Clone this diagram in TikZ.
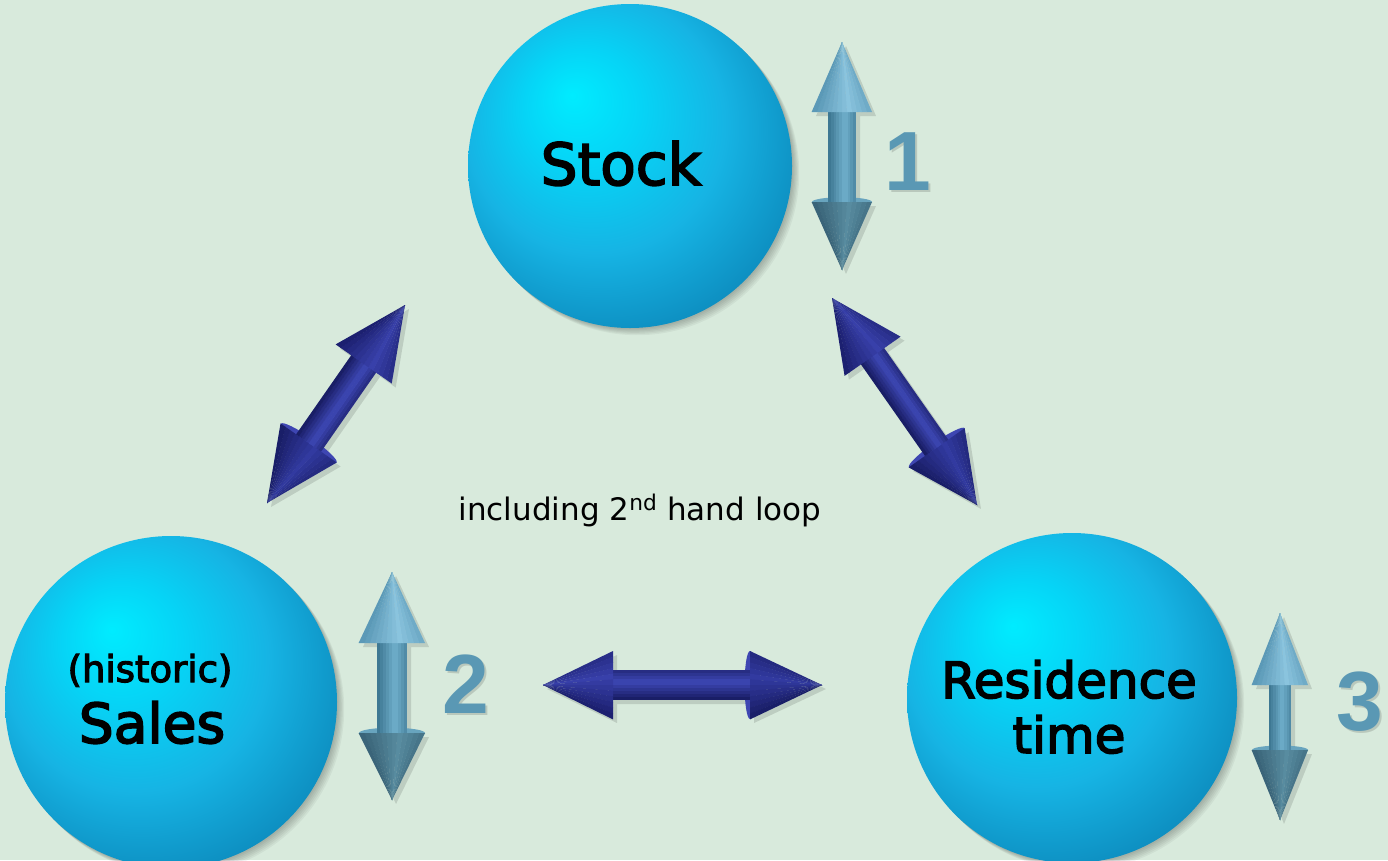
\documentclass[tikz,border=0pt]{standalone}
\usepackage{fontspec}
\setmainfont{DejaVu Sans}
\newfontfamily\lblfont{DejaVu Sans}[FakeBold=3]
\newfontfamily\numfont{Liberation Sans}
\usetikzlibrary{calc}
\definecolor{bg}{RGB}{216,234,220}
\definecolor{sphA}{RGB}{0,236,255}
\definecolor{sphB}{RGB}{6,212,246}
\definecolor{sphC}{RGB}{22,180,228}
\definecolor{sphD}{RGB}{14,145,195}
\definecolor{sphE}{RGB}{8,115,165}
\pgfdeclareradialshading{sphere}{\pgfpoint{-9bp}{11bp}}{color(0bp)=(sphA); color(9bp)=(sphB); color(20bp)=(sphC); color(30bp)=(sphD); color(39bp)=(sphE); color(50bp)=(sphE)}
% navy palette
\definecolor{nvA1}{RGB}{26,30,108}
\definecolor{nvA2}{RGB}{56,64,170}
\definecolor{nvB1}{RGB}{24,28,100}
\definecolor{nvB2}{RGB}{50,58,160}
\definecolor{nvS1}{RGB}{22,26,95}
\definecolor{nvS3}{RGB}{62,72,182}
\definecolor{nvE}{RGB}{62,70,178}
% light blue palette
\definecolor{lbA1}{RGB}{88,150,180}
\definecolor{lbA2}{RGB}{138,196,222}
\definecolor{lbB1}{RGB}{56,98,118}
\definecolor{lbB2}{RGB}{88,140,160}
\definecolor{lbS1}{RGB}{58,115,142}
\definecolor{lbS3}{RGB}{112,175,203}
\definecolor{lbE}{RGB}{104,164,190}
\definecolor{numcol}{RGB}{90,152,180}

\newcommand\fatarrow[7]{% #1 from, #2 to, #3 cone len at from, #4 cone len at to, #5 cone half width, #6 shaft half width, #7 palette
  \path let \p1=(#1), \p2=(#2) in \pgfextra{%
    \pgfmathsetmacro\tmpang{atan2(\y2-\y1,\x2-\x1)}%
    \pgfmathsetmacro\tmplen{veclen(\x2-\x1,\y2-\y1)}%
    \xdef\garrang{\tmpang}\xdef\garrlen{\tmplen}};
  \begin{scope}[shift={(#1)}, xshift=4pt, yshift=-4pt, rotate=\garrang]
    \fill[black, opacity=0.12] (0,0) -- (#3,-#5) -- (#3,-#6) -- (\garrlen-#4,-#6) -- (\garrlen-#4,-#5) -- (\garrlen,0) -- (\garrlen-#4,#5) -- (\garrlen-#4,#6) -- (#3,#6) -- (#3,#5) -- cycle;
  \end{scope}
  \begin{scope}[shift={(#1)}, rotate=\garrang]
    \fill[#7E] (\garrlen-#4,0) ellipse [x radius=0.16*#5, y radius=#5];
    \foreach \i in {0,...,11}{%
      \pgfmathsetmacro\ya{-#5+\i*#5/6}%
      \pgfmathsetmacro\yb{-#5+(\i+1)*#5/6+0.4}%
      \pgfmathtruncatemacro\pc{100*max(0,1-abs(\i-4)/7.5)}%
      \fill[#7B2!\pc!#7B1] (\garrlen,0) -- (\garrlen-#4,\ya) -- (\garrlen-#4,\yb) -- cycle;
    }
    \foreach \i in {0,...,9}{%
      \pgfmathsetmacro\ya{-#6+\i*#6/5}%
      \pgfmathsetmacro\yb{-#6+(\i+1)*#6/5+0.4}%
      \pgfmathtruncatemacro\pc{100*max(0,1-abs(\i-3.5)/6)}%
      \fill[#7S3!\pc!#7S1] (#3-2,\ya) rectangle (\garrlen-#4,\yb);
    }
    \foreach \i in {0,...,11}{%
      \pgfmathsetmacro\ya{-#5+\i*#5/6}%
      \pgfmathsetmacro\yb{-#5+(\i+1)*#5/6+0.4}%
      \pgfmathtruncatemacro\pc{100*max(0,1-abs(\i-4)/7.5)}%
      \fill[#7A2!\pc!#7A1] (0,0) -- (#3,\ya) -- (#3,\yb) -- cycle;
    }
  \end{scope}
}

\tikzset{
  ball/.style={circle, inner sep=0pt, shading=sphere, minimum size=#1},
  ballshadow/.style={fill=black, opacity=0.045},
  lbl/.style={anchor=base, inner sep=0pt, text=black},
  num/.style={anchor=base, inner sep=0pt, text=numcol, font=\numfont\bfseries\fontsize{84}{90}\selectfont},
  numshadow/.style={anchor=base, inner sep=0pt, text=black, opacity=0.14, font=\numfont\bfseries\fontsize{84}{90}\selectfont}
}

\begin{document}
\begin{tikzpicture}[x=1pt,y=-1pt]
\useasboundingbox (0,0) rectangle (1388,860);
\clip (0,0) rectangle (1388,860);
\fill[bg] (0,0) rectangle (1388,860);

% sphere shadows
\foreach \k in {1,...,6}{
  \fill[ballshadow] (630+1.2*\k,166+1.2*\k) circle[radius=162];
  \fill[ballshadow] (171+1.2*\k,702+1.2*\k) circle[radius=166];
  \fill[ballshadow] (1072+1.2*\k,698+1.2*\k) circle[radius=165];
}
% spheres
\node[ball=324] (stock) at (630,166) {};
\node[ball=332] (sales) at (171,702) {};
\node[ball=330] (resid) at (1072,698) {};

% sphere labels
\node[lbl, font=\lblfont\fontsize{58}{64}\selectfont] (tstock) at (621,185) {Stock};
\node[lbl, font=\lblfont\fontsize{37}{42}\selectfont] (thist) at (150,682) {(historic)};
\node[lbl, font=\lblfont\fontsize{55}{60}\selectfont] (tsales) at (152,743) {Sales};
\node[lbl, font=\lblfont\fontsize{50}{56}\selectfont] (tres) at (1069,698) {Residence};
\node[lbl, font=\lblfont\fontsize{50}{56}\selectfont] (ttime) at (1069,753) {time};

% centre text
\node[lbl, font=\fontsize{31}{36}\selectfont] (loop) at (640,520) {including 2\textsuperscript{nd} hand loop};

% numbers
\node[numshadow] (n1s) at (910,192) {1};
\node[num] (n1) at (908,190) {1};
\node[numshadow] (n2s) at (468,715) {2};
\node[num] (n2) at (466,713) {2};
\node[numshadow] (n3s) at (1362,732) {3};
\node[num] (n3) at (1360,730) {3};

% arrow end points
\coordinate (s1t) at (842,42);
\coordinate (s1b) at (842,270);
\coordinate (s2t) at (392,572);
\coordinate (s2b) at (392,800);
\coordinate (s3t) at (1280,613);
\coordinate (s3b) at (1280,820);
\coordinate (dlA) at (405,305);
\coordinate (dlB) at (267,503);
\coordinate (drA) at (832,298);
\coordinate (drB) at (977,505);
\coordinate (hA) at (543,685);
\coordinate (hB) at (822,685);

% vertical (light blue) arrows
\fatarrow{s1t}{s1b}{70}{68}{30}{14}{lb}
\fatarrow{s2t}{s2b}{71}{67}{33}{15}{lb}
\fatarrow{s3t}{s3b}{72}{70}{28}{11}{lb}
% navy connectors
\fatarrow{dlA}{dlB}{72}{73}{34}{15}{nv}
\fatarrow{drA}{drB}{71}{70}{34}{14}{nv}
\fatarrow{hA}{hB}{70}{72}{34}{15}{nv}
\end{tikzpicture}
\end{document}
